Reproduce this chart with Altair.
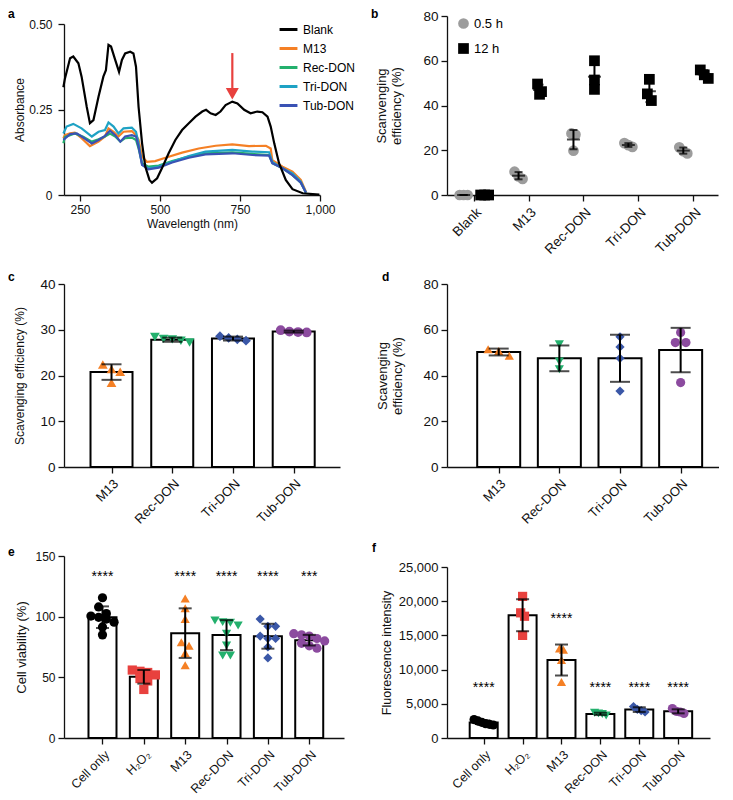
import altair as alt
import numpy as np
import pandas as pd

FONT = "Liberation Sans"

C_ORANGE = "#f58025"
C_GREEN = "#23b06d"
C_CYAN = "#1ea2c4"
C_BLUE_A = "#3a52b4"
C_BLUE = "#3a57a7"
C_PURPLE = "#8c4b9f"
C_RED = "#e8413e"
C_GREY = "#9c9c9c"

# ---------------- panel a : absorbance spectra ----------------
a_names = ["Blank", "M13", "Rec-DON", "Tri-DON", "Tub-DON"]
a_colors = ["#000000", C_ORANGE, C_GREEN, C_CYAN, C_BLUE_A]

blank_nm = [198, 203, 219, 229, 245, 255, 271, 281, 292, 308, 323, 331, 339, 347, 360, 372, 381, 391, 407, 417,
            425, 433, 444, 454, 467, 475, 491, 506, 527, 548, 569, 590, 611, 632, 644, 658, 674, 689, 705, 726,
            742, 763, 783, 804, 820, 836, 846, 857, 872, 893, 914, 946, 998]
blank_abs = [0.315, 0.341, 0.40, 0.405, 0.385, 0.346, 0.258, 0.21, 0.219, 0.288, 0.346, 0.365, 0.439, 0.434, 0.395,
             0.36, 0.395, 0.414, 0.419, 0.414, 0.375, 0.258, 0.151, 0.083, 0.044, 0.036, 0.049, 0.078, 0.122, 0.161,
             0.19, 0.21, 0.229, 0.244, 0.249, 0.239, 0.234, 0.244, 0.263, 0.273, 0.268, 0.249, 0.239, 0.244, 0.242,
             0.229, 0.2, 0.151, 0.093, 0.044, 0.017, 0.005, 0.001]

m13_nm = [198, 203, 219, 234, 255, 281, 308, 328, 339, 355, 370, 386, 412, 425, 433, 444, 459, 485, 517, 569,
          621, 674, 726, 778, 831, 846, 851, 883, 914, 940, 956]
m13_abs = [0.166, 0.175, 0.18, 0.182, 0.166, 0.143, 0.156, 0.171, 0.195, 0.185, 0.171, 0.185, 0.187, 0.175, 0.161,
           0.112, 0.097, 0.099, 0.109, 0.124, 0.136, 0.144, 0.148, 0.143, 0.144, 0.136, 0.102, 0.083, 0.068, 0.044, 0.01]

rec_nm = [198, 203, 219, 234, 260, 287, 308, 328, 344, 360, 376, 391, 412, 425, 433, 444, 464, 496, 538, 590,
          642, 726, 789, 841, 851, 883, 914, 940, 956]
rec_abs = [0.151, 0.17, 0.175, 0.18, 0.17, 0.156, 0.163, 0.171, 0.18, 0.171, 0.156, 0.166, 0.168, 0.161, 0.136,
           0.093, 0.083, 0.086, 0.099, 0.112, 0.122, 0.125, 0.12, 0.117, 0.093, 0.078, 0.058, 0.036, 0.007]

tri_nm = [198, 208, 229, 255, 287, 308, 328, 339, 355, 370, 386, 412, 425, 433, 444, 464, 496, 538, 590, 642,
          726, 789, 841, 851, 883, 914, 940, 956]
tri_abs = [0.18, 0.2, 0.208, 0.195, 0.171, 0.185, 0.19, 0.212, 0.2, 0.18, 0.195, 0.197, 0.185, 0.151, 0.088,
           0.078, 0.083, 0.097, 0.114, 0.127, 0.132, 0.127, 0.125, 0.097, 0.078, 0.063, 0.039, 0.007]

tub_nm = [198, 219, 240, 260, 287, 308, 328, 344, 360, 376, 391, 412, 425, 433, 444, 464, 496, 538, 590, 642,
          726, 789, 841, 851, 883, 914, 940, 956]
tub_abs = [0.161, 0.178, 0.18, 0.168, 0.151, 0.161, 0.173, 0.188, 0.175, 0.156, 0.171, 0.175, 0.171, 0.141, 0.088,
           0.075, 0.08, 0.095, 0.109, 0.119, 0.122, 0.117, 0.115, 0.093, 0.078, 0.058, 0.036, 0.007]

arrow_nm = [726]
arrow_top = [0.415]
arrow_head = [0.296]

# ---------------- panel b : scavenging (two time points) ----------------
b_groups = ["Blank", "M13", "Rec-DON", "Tri-DON", "Tub-DON"]
b_series = ["0.5 h", "12 h"]
b_05h = [[0, 0, 0], [10.4, 8.3, 7.2], [27.5, 27.0, 19.8], [23.2, 22.3, 21.5], [21.3, 19.6, 18.6]]
b_12h = [[0, 0, 0], [49.6, 46.2, 45.0], [60.0, 51.4, 47.2], [51.7, 45.2, 42.2], [55.9, 53.7, 52.1]]

# ---------------- panels c, d ----------------
cd_groups = ["M13", "Rec-DON", "Tri-DON", "Tub-DON"]
cd_colors = [C_ORANGE, C_GREEN, C_BLUE, C_PURPLE]
cd_shapes = ["triangle-up", "triangle-down", "diamond", "circle"]
c_values = [[22.4, 18.4, 20.8, 21.4], [27.9, 27.2, 28.0, 28.4, 27.6], [28.2, 27.6, 27.9, 28.6], [29.6, 29.4, 29.5, 29.9]]
d_values = [[51.5, 48.6, 50.7], [53.7, 46.1, 42.7], [56.9, 52.5, 47.5, 33.2], [58.8, 54.4, 54.4, 36.9]]

# ---------------- panels e, f ----------------
ef_groups = ["Cell only", "H\u2082O\u2082", "M13", "Rec-DON", "Tri-DON", "Tub-DON"]
ef_colors = ["#000000", C_RED, C_ORANGE, C_GREEN, C_BLUE, C_PURPLE]
ef_shapes = ["circle", "square", "triangle-up", "triangle-down", "diamond", "circle"]
e_values = [[115.6, 108, 102.5, 100.5, 99.5, 98, 95.5, 91.5, 85],
            [56, 55, 54, 52, 49, 47, 40],
            [115, 107, 98, 79, 76, 70, 60],
            [96.9, 95.5, 95, 92.8, 85.9, 76.2, 68, 68],
            [98, 92, 92, 84, 82, 82, 75, 66],
            [86, 85, 84, 82, 80, 78, 76, 74]]
e_stars = ["****", "", "****", "****", "****", "***"]
e_star_y = [133, 133, 133, 133, 133, 133]
f_values = [[2700, 2500, 2300, 2100, 2000, 1900],
            [20700, 18300, 17800, 15000],
            [13100, 12900, 11400, 8200],
            [3700, 3500, 3300, 3600],
            [4600, 4000, 3800, 4200],
            [4300, 3900, 3600, 3800]]
f_stars = ["****", "", "****", "****", "****", "****"]
f_star_y = [7300, 7300, 17400, 7300, 7300, 7300]


# ---------------- helpers ----------------
def spread(vals, ppu, diam, gap):
    """GraphPad-like scatter: points whose heights overlap are spread sideways (pixel offsets)."""
    order = list(np.argsort(vals)[::-1])
    offs = [0.0] * len(vals)
    cluster, start = [], None

    def flush(cl):
        k = len(cl)
        for j, idx in enumerate(cl):
            offs[idx] = (j - (k - 1) / 2) * gap

    for idx in order:
        y = vals[idx] * ppu
        if cluster and (start - y) > 0.8 * diam:
            flush(cluster)
            cluster = []
        if not cluster:
            start = y
        cluster.append(idx)
    flush(cluster)
    return offs


def x_cat(field, groups, xdom, lfs=12):
    expr = "[" + ",".join("'" + g + "'" for g in groups) + "][datum.value]"
    return alt.X(field, title=None,
                 scale=alt.Scale(domain=xdom, nice=False, zero=False),
                 axis=alt.Axis(values=list(range(len(groups))), labelExpr=expr, labelAngle=-45,
                               labelAlign="right", labelBaseline="top", labelPadding=4,
                               labelOverlap=False, labelFlush=False, labelFontSize=lfs))


def y_lin(field, title, ymax, ystep, fmt=None, title_pad=19, label_pad=3, top_gap=0, height=None,
          lfs=12, tfs=12):
    ax = dict(values=list(range(0, ymax + 1, ystep)), titlePadding=title_pad, labelPadding=label_pad,
              labelFlush=False, labelFontSize=lfs, titleFontSize=tfs)
    if fmt:
        ax["format"] = fmt
    sc = dict(domain=[0, ymax], nice=False)
    if top_gap:
        sc["range"] = [height, top_gap]
    return alt.Y(field, title=title, scale=alt.Scale(**sc), axis=alt.Axis(**ax))


def letter(ch, dx, dy):
    return alt.Chart(pd.DataFrame({"t": [ch]})).mark_text(
        align="left", baseline="alphabetic", fontSize=12, fontWeight="bold", font=FONT, color="black"
    ).encode(x=alt.value(dx), y=alt.value(dy), text="t:N")


def anchor(dx, dy):
    # invisible corner mark fixing the chart's top-left extent
    return alt.Chart(pd.DataFrame({"k": [0]})).mark_rule(opacity=0, strokeWidth=0.1).encode(
        x=alt.value(dx), x2=alt.value(dx + 1), y=alt.value(dy), y2=alt.value(dy + 1))


def bar_panel(lt, groups, data, colors, shapes, ymax, ystep, ytitle, width, height, xdom,
              bar_w, cap_w, pt_size, gap, title_pad, fmt=None, stars=None, star_y=None, top_gap=0,
              extra=None, lfs=12, tfs=12, xlfs=12):
    step = width / (xdom[1] - xdom[0])
    ppu = (height - top_gap) / ymax
    diam = np.sqrt(pt_size)
    rows = []
    for i, (g, vals) in enumerate(zip(groups, data)):
        offs = spread(vals, ppu, diam, gap)
        for v, o in zip(vals, offs):
            rows.append({"g": g, "i": i, "xp": i + o / step, "v": v})
    df = pd.DataFrame(rows)
    X = lambda f: x_cat(f, groups, xdom, xlfs)
    Y = lambda f: y_lin(f, ytitle, ymax, ystep, fmt, title_pad, top_gap=top_gap, height=height,
                        lfs=lfs, tfs=tfs)
    base = alt.Chart(df)
    bars = base.transform_aggregate(m="mean(v)", groupby=["i"]).mark_bar(
        size=bar_w, fill="white", stroke="black", strokeWidth=2).encode(x=X("i:Q"), y=Y("m:Q"))
    pts = base.mark_point(filled=True, size=pt_size, opacity=1).encode(
        x=X("xp:Q"), y=Y("v:Q"),
        color=alt.Color("g:N", scale=alt.Scale(domain=groups, range=colors), legend=None),
        shape=alt.Shape("g:N", scale=alt.Scale(domain=groups, range=shapes), legend=None))
    stats = base.transform_aggregate(m="mean(v)", s="stdev(v)", groupby=["i"]).transform_calculate(
        lo="datum.m - datum.s", hi="datum.m + datum.s")
    err = stats.mark_rule(color="black", strokeWidth=2).encode(x=X("i:Q"), y=Y("lo:Q"), y2="hi:Q")
    cap_lo = stats.mark_tick(orient="horizontal", size=cap_w, thickness=2, color="black").encode(
        x=X("i:Q"), y=Y("lo:Q"))
    cap_hi = stats.mark_tick(orient="horizontal", size=cap_w, thickness=2, color="black").encode(
        x=X("i:Q"), y=Y("hi:Q"))
    layers = [bars, pts, err, cap_lo, cap_hi]
    if stars:
        df_s = pd.DataFrame({"i": list(range(len(groups))), "t": stars, "sy": star_y})
        layers.append(alt.Chart(df_s).mark_text(fontSize=14, font=FONT, baseline="middle", color="black")
                      .encode(x=X("i:Q"), y=Y("sy:Q"), text="t:N"))
    layers.append(letter(*lt))
    if extra is not None:
        layers.append(extra)
    return alt.layer(*layers).properties(width=width, height=height)


# ---------------- panel a ----------------
rows_a = []
for name, xs, ys in [("M13", m13_nm, m13_abs), ("Rec-DON", rec_nm, rec_abs), ("Tri-DON", tri_nm, tri_abs),
                     ("Tub-DON", tub_nm, tub_abs), ("Blank", blank_nm, blank_abs)]:
    for x, y in zip(xs, ys):
        rows_a.append({"sample": name, "nm": x, "abs": y})
df_a = pd.DataFrame(rows_a)
ha = 179


def xa(f):
    return alt.X(f, title="Wavelength (nm)", scale=alt.Scale(domain=[200, 1000], nice=False, zero=False),
                 axis=alt.Axis(values=[250, 500, 750, 1000], format=",d", titlePadding=3, labelPadding=3,
                               labelFlush=False))


def ya(f):
    return alt.Y(f, title="Absorbance", scale=alt.Scale(domain=[0, 0.5], nice=False, range=[ha, 8]),
                 axis=alt.Axis(values=[0, 0.25, 0.5], labelPadding=6, titlePadding=2, labelFlush=False,
                               labelExpr="datum.value == 0 ? '0' : format(datum.value, '.2f')"))


color_a = alt.Color("sample:N", scale=alt.Scale(domain=a_names, range=a_colors),
                    legend=alt.Legend(title=None, orient="none", legendX=214, legendY=3,
                                      symbolType="stroke", symbolSize=320, symbolStrokeWidth=3,
                                      labelFontSize=12, labelFont=FONT, rowPadding=2, labelOffset=4))
lines_a = alt.Chart(df_a).mark_line(strokeWidth=2.2).encode(x=xa("nm:Q"), y=ya("abs:Q"), color=color_a)
df_arrow = pd.DataFrame({"nm": arrow_nm, "abs": arrow_top, "abs2": arrow_head})
arrow_line = alt.Chart(df_arrow).mark_rule(color=C_RED, strokeWidth=2.2).encode(
    x=xa("nm:Q"), y=ya("abs:Q"), y2="abs2:Q")
arrow_tip = alt.Chart(df_arrow).mark_point(shape="triangle-down", filled=True, size=170, color=C_RED,
                                           opacity=1).encode(x=xa("nm:Q"), y=ya("abs2:Q"))
panel_a = alt.layer(lines_a, arrow_line, arrow_tip, letter("a", -56, 2), anchor(-56, -8)).properties(
    width=256, height=ha)

# ---------------- panel b ----------------
wb, hb = 271, 179
xdom_b = [-0.485, 4.45]
step_b = wb / (xdom_b[1] - xdom_b[0])
ppu_b = hb / 80
rows_b = []
for gi, g in enumerate(b_groups):
    for series, vals, dodge in (("0.5 h", b_05h[gi], -10), ("12 h", b_12h[gi], 11)):
        offs = spread(vals, ppu_b, 11, 4)
        for v, o in zip(vals, offs):
            rows_b.append({"g": g, "series": series, "xc": gi + dodge / step_b,
                           "xp": gi + (dodge + o) / step_b, "v": v})
df_b = pd.DataFrame(rows_b)
Xb = lambda f: x_cat(f, b_groups, xdom_b, 13.5)
Yb = lambda f: y_lin(f, ["Scanvenging", "efficiency (%)"], 80, 20, None, 19, lfs=13.5, tfs=13)
leg_b = dict(title=None, orient="none", legendX=10, legendY=1, symbolSize=115, labelFontSize=13,
             labelFont=FONT, rowPadding=11, labelOffset=4)
pts_b = alt.Chart(df_b).mark_point(filled=True, size=115, opacity=1).encode(
    x=Xb("xp:Q"), y=Yb("v:Q"),
    color=alt.Color("series:N", scale=alt.Scale(domain=b_series, range=[C_GREY, "#000000"]),
                    legend=alt.Legend(**leg_b)),
    shape=alt.Shape("series:N", scale=alt.Scale(domain=b_series, range=["circle", "square"]),
                    legend=alt.Legend(**leg_b)))
stats_b = alt.Chart(df_b).transform_aggregate(m="mean(v)", s="stdev(v)", groupby=["xc", "series"]) \
    .transform_calculate(lo="datum.m - datum.s", hi="datum.m + datum.s")
err_b = stats_b.mark_rule(color="black", strokeWidth=2).encode(x=Xb("xc:Q"), y=Yb("lo:Q"), y2="hi:Q")
mean_b = stats_b.mark_tick(orient="horizontal", size=13, thickness=2, color="black").encode(
    x=Xb("xc:Q"), y=Yb("m:Q"))
lo_b = stats_b.mark_tick(orient="horizontal", size=8, thickness=2, color="black").encode(
    x=Xb("xc:Q"), y=Yb("lo:Q"))
hi_b = stats_b.mark_tick(orient="horizontal", size=8, thickness=2, color="black").encode(
    x=Xb("xc:Q"), y=Yb("hi:Q"))
panel_b = alt.layer(pts_b, err_b, mean_b, lo_b, hi_b, letter("b", -76, 2)).properties(width=wb, height=hb)

# ---------------- panels c-f ----------------
panel_c = bar_panel(("c", -56, -3), cd_groups, c_values, cd_colors, cd_shapes, 40, 10,
                    "Scavenging efficiency (%)", 276, 183, [-0.7, 3.68], 42, 20, 95, 9, 13,
                    extra=anchor(-56, 0), lfs=13.5, tfs=12, xlfs=13)
panel_d = bar_panel(("d", -65, -3), cd_groups, d_values, cd_colors, cd_shapes, 80, 20,
                    ["Scavenging", "efficiency (%)"], 272, 183, [-0.77, 3.55], 43, 20, 85, 11, 18,
                    lfs=13.5, tfs=13, xlfs=13)
panel_e = bar_panel(("e", -56, 0), ef_groups, e_values, ef_colors, ef_shapes, 150, 50,
                    "Cell viability (%)", 280, 182, [-0.81, 5.72], 28, 13, 85, 8, 6,
                    stars=e_stars, star_y=e_star_y, extra=anchor(-56, 0), lfs=12, tfs=13, xlfs=12.5)
panel_f = bar_panel(("f", -75, -4), ef_groups, f_values, ef_colors, ef_shapes, 25000, 5000,
                    "Fluorescence intensity", 263, 182, [-0.815, 5.69], 28, 13, 85, 4, 5, fmt=",d",
                    stars=f_stars, star_y=f_star_y, top_gap=11, lfs=13, tfs=12.5, xlfs=12.5)

chart = alt.concat(panel_a, panel_b, panel_c, panel_d, panel_e, panel_f, columns=2,
                   spacing={"row": 89, "column": 103}, bounds="flush", align="each") \
    .resolve_scale(color="independent", shape="independent").properties(padding=0)
chart = chart.configure(font=FONT).configure_axis(
    domainColor="#111111", tickColor="#111111", labelColor="#111111", titleColor="#111111",
    labelFontSize=12, titleFontSize=12, titleFontWeight="normal", tickSize=6, domainWidth=1.3,
    tickWidth=1.3, grid=False, labelFont=FONT, titleFont=FONT
).configure_view(stroke=None)

chart.save("out.html", embed_options={"renderer": "svg", "actions": False})
